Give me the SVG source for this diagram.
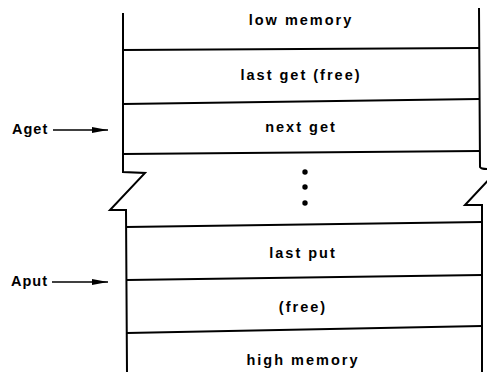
<svg xmlns="http://www.w3.org/2000/svg" width="487" height="372" viewBox="0 0 487 372">
<defs>
<style>
.ln{stroke:#000;stroke-width:2;fill:none;stroke-linejoin:miter}
.t{font-family:"Liberation Sans",Arial,sans-serif;font-weight:bold;font-size:14.5px;letter-spacing:2px;fill:#000;text-anchor:middle}
.lb{font-family:"Liberation Sans",Arial,sans-serif;font-weight:bold;font-size:14.5px;letter-spacing:1px;fill:#000}
</style>
<marker id="ah" markerWidth="16" markerHeight="8" refX="16" refY="4" orient="auto" markerUnits="userSpaceOnUse">
<path d="M0,1 L16,4 L0,7 Z" fill="#000"/>
</marker>
</defs>
<rect width="487" height="372" fill="#fff"/>
<g id="frame">
<path class="ln" d="M123,13 L123,172 L145,173 L110,210 L126,210 L127,372"/>
<path class="ln" d="M479,8 L480,167 Q481,169 487,169"/>
<path class="ln" d="M495,173 L465,205 L482,205 L482,372"/>
</g>
<g id="low-memory">
<text class="t" x="301" y="25">low memory</text>
<line class="ln" x1="123" y1="50" x2="479" y2="48"/>
</g>
<g id="last-get">
<text class="t" x="301" y="80">last get (free)</text>
<line class="ln" x1="123" y1="104" x2="479" y2="99"/>
</g>
<g id="next-get">
<text class="t" x="301" y="132">next get</text>
<line class="ln" x1="123" y1="154" x2="479" y2="151"/>
</g>
<g id="ellipsis">
<circle cx="305" cy="172" r="2.7" fill="#000"/>
<circle cx="305" cy="187" r="2.7" fill="#000"/>
<circle cx="305" cy="203" r="2.7" fill="#000"/>
</g>
<g id="last-put">
<line class="ln" x1="126" y1="227" x2="482" y2="222"/>
<text class="t" x="303" y="258">last put</text>
</g>
<g id="free">
<line class="ln" x1="127" y1="280" x2="482" y2="275"/>
<text class="t" x="303" y="312">(free)</text>
</g>
<g id="high-memory">
<line class="ln" x1="127" y1="333" x2="482" y2="326"/>
<text class="t" x="303" y="365">high memory</text>
</g>
<g id="Aget"><text class="lb" x="12" y="134">Aget</text></g>
<g id="Aput"><text class="lb" x="11" y="286">Aput</text></g>
<g id="connectors">
<line x1="53" y1="130" x2="108" y2="130" stroke="#000" stroke-width="1.5" marker-end="url(#ah)"/>
<line x1="52" y1="282" x2="108" y2="282" stroke="#000" stroke-width="1.5" marker-end="url(#ah)"/>
</g>
</svg>
